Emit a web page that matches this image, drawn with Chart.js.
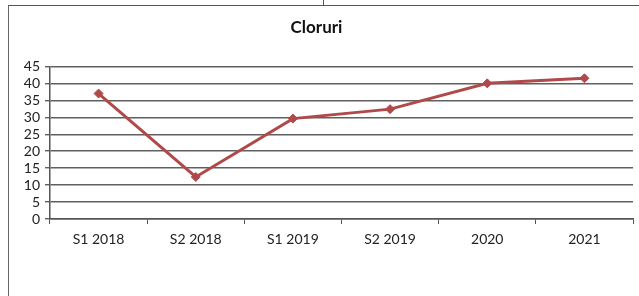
<!DOCTYPE html>
<html>
<head>
<meta charset="utf-8">
<script src="https://cdn.jsdelivr.net/npm/chart.js@4/dist/chart.umd.min.js"></script>
<style>
  html, body { margin: 0; padding: 0; background: #fff; }
  #wrap { position: relative; width: 639px; height: 296px; overflow: hidden; }
  #frame { position: absolute; left: 8px; top: 5px; right: -2px; bottom: -2px;
           border-top: 1px solid #555; border-left: 1px solid #666; }
  #notch { position: absolute; left: 323px; top: 0; width: 1px; height: 5px; background: #555; }
  canvas { position: absolute; left: 0; top: 0; }
</style>
</head>
<body>
<div id="wrap">
  <div id="frame"></div>
  <div id="notch"></div>
  <canvas id="line-chart" width="639" height="296"></canvas>
</div>
<script>
const categories = ["S1 2018", "S2 2018", "S1 2019", "S2 2019", "2020", "2021"];
const cloruri = [37, 12.4, 29.6, 32.4, 40, 41.5];
const yTicks = [0, 5, 10, 15, 20, 25, 30, 35, 40, 45];

const ctx = document.getElementById("line-chart").getContext("2d");
Chart.defaults.font.family = "Lato, 'Open Sans', sans-serif";
Chart.defaults.color = "#222";

const lineChart = new Chart(ctx, {
  type: "line",
  data: {
    labels: categories,
    datasets: [
      {
        label: "Cloruri",
        data: cloruri,
        borderColor: "#b04a4a",
        backgroundColor: "#b04a4a",
        borderWidth: 3,
        pointStyle: "rectRot",
        pointRadius: 4.5,
        pointBorderWidth: 1,
        tension: 0,
      },
    ],
  },
  options: {
    responsive: false,
    animation: false,
    layout: { padding: { left: 0, right: 6, top: 0, bottom: 0 } },
    plugins: {
      legend: { display: false },
      tooltip: { enabled: false },
      title: {
        display: true,
        text: "Cloruri",
        color: "#111",
        font: { size: 17, weight: "bold" },
        padding: { top: 17, bottom: 29 },
      },
    },
    scales: {
      x: {
        offset: true,
        grid: {
          offset: true,
          drawOnChartArea: false,
          drawTicks: true,
          tickLength: 5,
          color: "#555",
        },
        border: { display: true, color: "#555", width: 1.5 },
        ticks: { padding: 7, font: { size: 14 }, color: "#222" },
        afterFit: (scale) => { scale.height = 77; },
      },
      y: {
        min: 0,
        max: 45,
        afterBuildTicks: (scale) => { scale.ticks = yTicks.map((v) => ({ value: v })); },
        grid: { color: "#606060", tickLength: 5, lineWidth: 1.4 },
        border: { display: true, color: "#555", width: 1.5 },
        ticks: { autoSkip: false, padding: 5, font: { size: 14 }, color: "#222" },
        afterFit: (scale) => { scale.width = 50; },
      },
    },
  },
});
</script>
</body>
</html>
